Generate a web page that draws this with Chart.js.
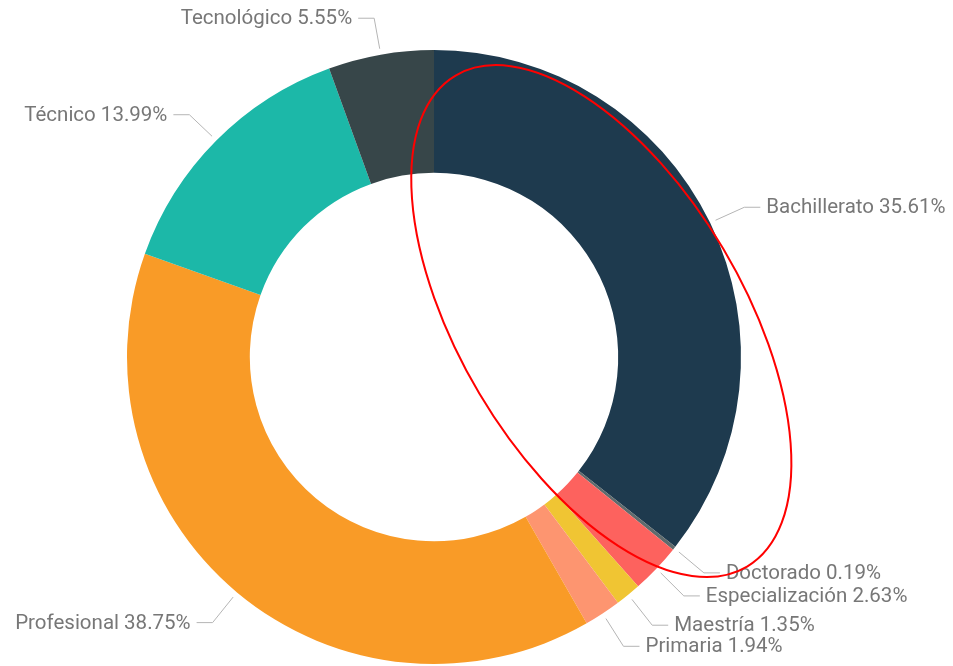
<!DOCTYPE html>
<html>
<head>
<meta charset="utf-8">
<script src="https://cdn.jsdelivr.net/npm/chart.js@4"></script>
<style>
  html, body { margin: 0; padding: 0; background: #fff; }
  #wrap { width: 953px; height: 666px; }
</style>
</head>
<body>
<div id="wrap"><canvas id="chartCanvas" width="953" height="666"></canvas></div>
<script>
const categories = ['Bachillerato', 'Doctorado', 'Especialización', 'Maestría', 'Primaria', 'Profesional', 'Técnico', 'Tecnológico'];
const percents = [35.61, 0.19, 2.63, 1.35, 1.94, 38.75, 13.99, 5.55];
const colors = ['#1E3A4E', '#5F6B6D', '#FD625E', '#F0C533', '#FD9570', '#F99B27', '#1CB8A8', '#374649'];

// leader lines + labels, Power BI style
const leaderLabels = {
    id: 'leaderLabels',
    afterDatasetsDraw(chart) {
        const ctx = chart.ctx;
        const meta = chart.getDatasetMeta(0);
        ctx.save();
        ctx.font = '20.5px Roboto';
        ctx.textBaseline = 'middle';
        ctx.lineWidth = 1;
        ctx.strokeStyle = '#b5b5b5';
        ctx.fillStyle = '#777';
        meta.data.forEach((arc, i) => {
            const mid = (arc.startAngle + arc.endAngle) / 2;
            const R = arc.outerRadius;
            const cx = arc.x, cy = arc.y;
            const x0 = cx + Math.cos(mid) * (R + 6);
            const y0 = cy + Math.sin(mid) * (R + 6);
            const x1 = cx + Math.cos(mid) * (R + 38);
            const y1 = cy + Math.sin(mid) * (R + 38) + 1;
            const right = Math.cos(mid) >= 0;
            const x2 = x1 + (right ? 16 : -16);
            ctx.beginPath();
            ctx.moveTo(x0, y0);
            ctx.lineTo(x1, y1);
            ctx.lineTo(x2, y1);
            ctx.stroke();
            ctx.textAlign = right ? 'left' : 'right';
            const txt = categories[i] + ' ' + percents[i].toFixed(2) + '%';
            ctx.fillText(txt, x2 + (right ? 6 : -6), y1 + 1);
        });
        ctx.restore();
    }
};

// red hand-drawn ellipse highlight around the Bachillerato slice
const highlight = {
    id: 'highlight',
    afterDraw(chart) {
        const arc = chart.getDatasetMeta(0).data[0];
        const R = arc.outerRadius;
        const ctx = chart.ctx;
        ctx.save();
        ctx.strokeStyle = '#ff0000';
        ctx.lineWidth = 2;
        ctx.beginPath();
        ctx.ellipse(arc.x + R * 0.545, arc.y - R * 0.117, R * 0.93, R * 0.462, 59.3 * Math.PI / 180, 0, Math.PI * 2);
        ctx.stroke();
        ctx.restore();
    }
};

const ctx = document.getElementById('chartCanvas').getContext('2d');
let chart = new Chart(ctx, {
    type: 'doughnut',
    data: {
        labels: categories,
        datasets: [{
            data: percents,
            backgroundColor: colors,
            borderWidth: 0
        }]
    },
    options: {
        responsive: false,
        animation: false,
        cutout: '60%',
        layout: { padding: { left: 127, right: 212, top: 50, bottom: 2 } },
        plugins: {
            legend: { display: false },
            tooltip: { enabled: false }
        }
    },
    plugins: [leaderLabels, highlight]
});
</script>
</body>
</html>
